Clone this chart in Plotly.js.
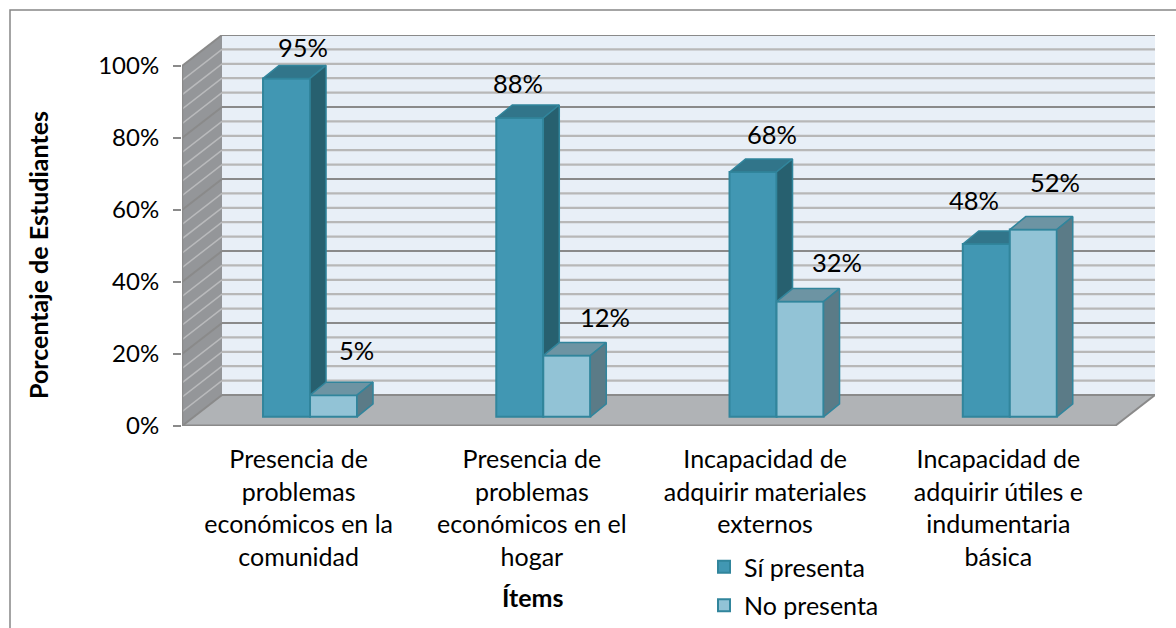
<!DOCTYPE html>
<html>
<head>
<meta charset="utf-8">
<script src="https://cdn.plot.ly/plotly-3.0.1.min.js"></script>
<style>html,body{margin:0;padding:0;background:#fff;overflow:hidden}#chart{width:1176px;height:628px}</style>
</head>
<body>
<div id="chart"></div>
<script>
// ---- data ----
const categories = [
  'Presencia de<br>problemas<br>económicos en la<br>comunidad',
  'Presencia de<br>problemas<br>económicos en el<br>hogar',
  'Incapacidad de<br>adquirir materiales<br>externos',
  'Incapacidad de<br>adquirir útiles e<br>indumentaria<br>básica'
];
const categoryIndex = [0, 1, 2, 3];
const siPresenta = [94, 83, 68, 48];      // bar heights as drawn
const noPresenta = [6, 17, 32, 52];
const siLabels = ['95%', '88%', '68%', '48%'];   // labels as printed
const noLabels = ['5%', '12%', '32%', '52%'];
const yTicks = [0, 20, 40, 60, 80, 100];
const minorGrid = [0,4,8,12,16,20,24,28,32,36,40,44,48,52,56,60,64,68,72,76,80,84,88,92,96,100];

// ---- geometry (pixels of the page → axis units) ----
const PLOT = {l:182, r:1155, t:35, b:426};
const PX_PER_CAT = 233.25, PX_PER_PCT = 3.6;
const xRange = [-0.5, -0.5 + (PLOT.r - PLOT.l) / PX_PER_CAT];
const yRange = [0, (PLOT.b - PLOT.t) / PX_PER_PCT];
const floorX = 40 / PX_PER_CAT, floorY = 31 / PX_PER_PCT;   // wall depth
const barDX = 16 / PX_PER_CAT, barDY = 13 / PX_PER_PCT;     // bar depth
const barBase = 9.2 / PX_PER_PCT;                           // bars stand on the floor
const barW = 47 / PX_PER_CAT;
const siOff = -35.6 / PX_PER_CAT, noOff = siOff + barW;
const xEnd = xRange[0] + (1115 - PLOT.l) / PX_PER_CAT;      // front right corner
const x0 = xRange[0];

// label nudges, in pixels from the front-top centre of each bar
const siNudge = [[16, 31], [-2, 35], [19, 38], [-12, 44]];
const noNudge = [[23, 45], [38, 39], [37, 40], [22, 48]];

// ---- colours ----
const C = {
  si:'#4197B3', siTop:'#31758A', siSide:'#27606F',
  no:'#92C3D6', noTop:'#6D94A3', noSide:'#5B7B87',
  edge:'#31859C', wall:'#E8EFF7', side:'#949699', floor:'#B0B3B6',
  minor:'#B8B8B8', major:'#8A8A8A', sideMinor:'#B9BABC', text:'#000000'
};

// ---- walls and gridlines as shapes under the bars ----
const shapes = [];
function poly(pts, fill, lineColor, lw) {
  const path = pts.map((p, i) => (i ? 'L' : 'M') + p[0] + ',' + p[1]).join(' ') + ' Z';
  shapes.push({type:'path', xref:'x', yref:'y', layer:'below', path,
    fillcolor:fill, line:{color:lineColor || fill, width:lw === undefined ? 0 : lw}});
}
function seg(x1, y1, x2, y2, color, w) {
  shapes.push({type:'line', xref:'x', yref:'y', layer:'below', x0:x1, y0:y1, x1:x2, y1:y2,
    line:{color, width:w}});
}
poly([[x0 + floorX, floorY], [xRange[1], floorY], [xRange[1], 100 + floorY], [x0 + floorX, 100 + floorY]], C.wall);
poly([[x0, 0], [x0 + floorX, floorY], [x0 + floorX, 100 + floorY], [x0, 100]], C.side);
poly([[x0, 0], [xEnd, 0], [xRange[1], floorY], [x0 + floorX, floorY]], C.floor);
minorGrid.forEach(v => {
  const major = v % 20 === 0;
  seg(x0 + floorX, v + floorY, xRange[1], v + floorY, major ? C.major : C.minor, 2.2);
  seg(x0, v, x0 + floorX, v + floorY, major ? C.major : C.sideMinor, major ? 2 : 1.5);
});
seg(x0, 0, x0, 100, C.major, 2.5);
seg(x0, 0, xEnd, 0, C.major, 3);
seg(xEnd, 0, xRange[1], floorY, C.major, 2);
// outer chart frame: only its top and left sides fall inside the page
const pw = PLOT.r - PLOT.l, ph = PLOT.b - PLOT.t;
shapes.push({type:'path', xref:'paper', yref:'paper', layer:'below',
  path:`M${(10 - PLOT.l) / pw},${(PLOT.b - 640) / ph} L${(10 - PLOT.l) / pw},${(PLOT.b - 10) / ph} L${(1180 - PLOT.l) / pw},${(PLOT.b - 10) / ph}`,
  line:{color:'#868686', width:1.5}, fillcolor:'rgba(0,0,0,0)'});

// ---- bars: a real bar for the front face, two polygons for the top and the side ----
function faces(values, off, name, front, top, side, xa, ya) {
  const out = [{
    type:'bar', name, x:categoryIndex, y:values, base:values.map(() => barBase),
    width:values.map(() => barW), offset:values.map(() => off), xaxis:xa, yaxis:ya,
    marker:{color:front, line:{color:C.edge, width:2}}, legendgroup:name, hoverinfo:'skip'
  }];
  values.forEach((v, i) => {
    const L = categoryIndex[i] + off, R = L + barW, T = v + barBase;
    out.push({type:'scatter', mode:'lines', x:[L, L + barDX, R + barDX, R, L], y:[T, T + barDY, T + barDY, T, T],
      fill:'toself', fillcolor:top, line:{color:C.edge, width:1.5}, xaxis:xa, yaxis:ya, showlegend:false, hoverinfo:'skip'});
    out.push({type:'scatter', mode:'lines', x:[R, R + barDX, R + barDX, R, R], y:[barBase, barBase + barDY, T + barDY, T, barBase],
      fill:'toself', fillcolor:side, line:{color:C.edge, width:1.5}, xaxis:xa, yaxis:ya, showlegend:false, hoverinfo:'skip'});
  });
  return out;
}
const traces = [
  ...faces(siPresenta, siOff, 'Sí presenta', C.si, C.siTop, C.siSide, 'x', 'y'),
  ...faces(noPresenta, noOff, 'No presenta', C.no, C.noTop, C.noSide, 'x2', 'y2')
];

// ---- text ----
const FONT = 'Lato, "Open Sans", sans-serif';
const annotations = [];
function labels(values, texts, off, nudge) {
  values.forEach((v, i) => annotations.push({
    xref:'x', yref:'y', x:categoryIndex[i] + off + barW / 2, y:v + barBase, text:texts[i], showarrow:false,
    xshift:nudge[i][0], yshift:nudge[i][1], xanchor:'center', yanchor:'middle',
    font:{family:FONT, size:25.5, color:C.text}
  }));
}
labels(siPresenta, siLabels, siOff, siNudge);
labels(noPresenta, noLabels, noOff, noNudge);
const pxX = x => (x - PLOT.l) / pw, pxY = y => (PLOT.b - y) / ph;
annotations.push({xref:'paper', yref:'paper', x:pxX(38), y:pxY(255), text:'<b>Porcentaje de Estudiantes</b>',
  textangle:-90, showarrow:false, xanchor:'center', yanchor:'middle', font:{family:FONT, size:25, color:C.text}});
annotations.push({xref:'paper', yref:'paper', x:pxX(533), y:pxY(597), text:'<b>Ítems</b>',
  showarrow:false, xanchor:'center', yanchor:'middle', font:{family:FONT, size:25, color:C.text}});

const layout = {
  width:1176, height:628,
  margin:{l:PLOT.l, r:1176 - PLOT.r, t:PLOT.t, b:628 - PLOT.b, pad:0, autoexpand:false},
  paper_bgcolor:'#fff', plot_bgcolor:'rgba(0,0,0,0)',
  barmode:'overlay', showlegend:true,
  font:{family:FONT, size:25, color:C.text},
  xaxis:{type:'linear', range:xRange, tickmode:'array', tickvals:categoryIndex, ticktext:categories,
    showgrid:false, zeroline:false, showline:false, ticks:'', ticklabelstandoff:16,
    tickfont:{family:FONT, size:25, color:C.text}, fixedrange:true},
  yaxis:{type:'linear', range:yRange, tickmode:'array', tickvals:yTicks, ticktext:yTicks.map(v => v + '%'),
    showgrid:false, zeroline:false, showline:false, ticks:'outside', ticklen:8, tickwidth:2, tickcolor:C.major,
    ticklabelstandoff:9, tickfont:{family:FONT, size:24, color:C.text}, fixedrange:true},
  xaxis2:{type:'linear', range:xRange, overlaying:'x', visible:false, fixedrange:true},
  yaxis2:{type:'linear', range:yRange, overlaying:'y', visible:false, fixedrange:true},
  legend:{xref:'paper', yref:'paper', x:pxX(704), y:pxY(544), xanchor:'left', yanchor:'top',
    bgcolor:'rgba(0,0,0,0)', tracegroupgap:3, traceorder:'grouped',
    font:{family:FONT, size:25, color:C.text}},
  shapes, annotations, hovermode:false
};
Plotly.newPlot('chart', traces, layout, {displayModeBar:false, staticPlot:true});
</script>
</body>
</html>
